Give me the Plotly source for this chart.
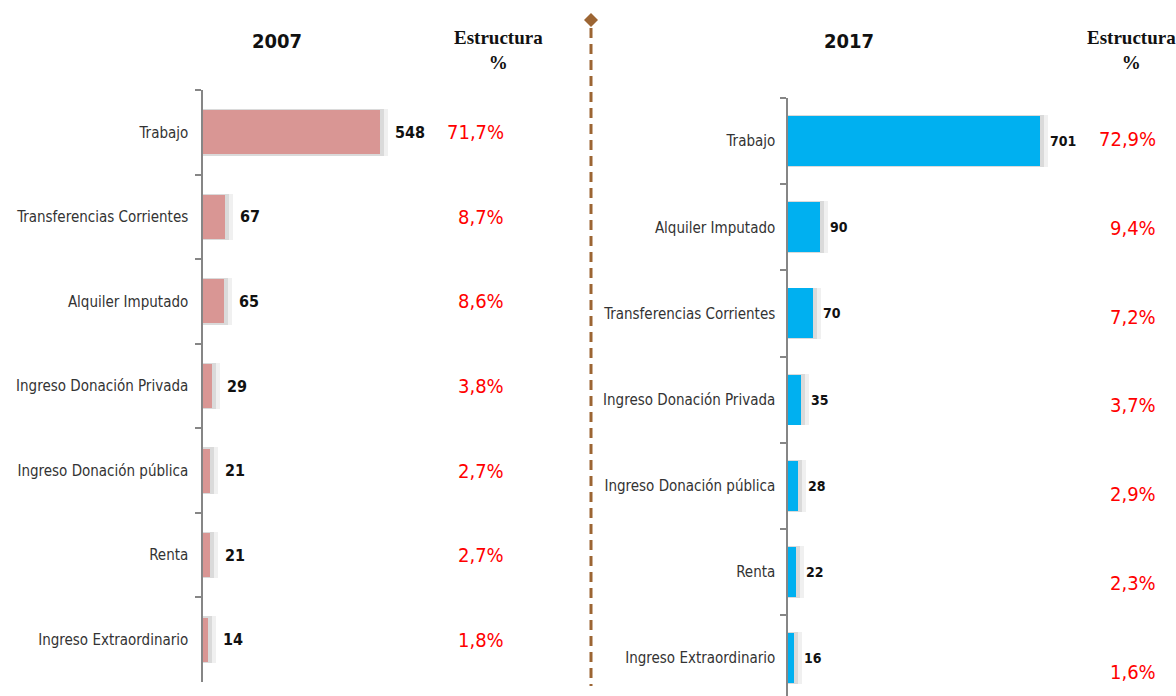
import plotly.graph_objects as go

W, H = 1176, 696

# ---- data ----
cats_2007 = ["Trabajo", "Transferencias Corrientes", "Alquiler Imputado",
             "Ingreso Donación Privada", "Ingreso Donación pública", "Renta",
             "Ingreso Extraordinario"]
vals_2007 = [548, 67, 65, 29, 21, 21, 14]
pct_2007 = [71.7, 8.7, 8.6, 3.8, 2.7, 2.7, 1.8]

cats_2017 = ["Trabajo", "Alquiler Imputado", "Transferencias Corrientes",
             "Ingreso Donación Privada", "Ingreso Donación pública", "Renta",
             "Ingreso Extraordinario"]
vals_2017 = [701, 90, 70, 35, 28, 22, 16]
pct_2017 = [72.9, 9.4, 7.2, 3.7, 2.9, 2.3, 1.6]

title_2007 = "2007"
title_2017 = "2017"
struct_title = "Estructura<br>%"

# ---- styles ----
NARROW = "DejaVu Sans Condensed, Liberation Sans Narrow, Arial Narrow, sans-serif"
SERIF = "Liberation Serif, DejaVu Serif, serif"
C_2007 = "#D99694"
C_2017 = "#00B0F0"
BROWN = "#9C6533"
AXIS_C = "#868686"

def px(x):
    return x / W

def py(y):
    return 1 - y / H

# scales (px per unit)
L_AX, L_END = 203, 430
R_AX, R_END = 788, 1065
l_scale = (380 - 203) / 548
r_scale = (1040 - 788) / 701

fig = go.Figure()

# soft shadows (two layers)
for extra, alpha in [(8, 0.06), (4, 0.09)]:
    fig.add_trace(go.Bar(x=[v + extra / l_scale for v in vals_2007], y=cats_2007, orientation="h",
                         marker=dict(color=f"rgba(0,0,0,{alpha})", line=dict(width=0)),
                         width=0.55, xaxis="x", yaxis="y", hoverinfo="skip", showlegend=False))
    fig.add_trace(go.Bar(x=[v + extra / r_scale for v in vals_2017], y=cats_2017, orientation="h",
                         marker=dict(color=f"rgba(0,0,0,{alpha})", line=dict(width=0)),
                         width=0.6, xaxis="x2", yaxis="y2", hoverinfo="skip", showlegend=False))
# bars
fig.add_trace(go.Bar(x=vals_2007, y=cats_2007, orientation="h",
                     marker=dict(color=C_2007, line=dict(width=0)),
                     width=0.52, xaxis="x", yaxis="y", showlegend=False))
fig.add_trace(go.Bar(x=vals_2017, y=cats_2017, orientation="h",
                     marker=dict(color=C_2017, line=dict(width=0)),
                     width=0.58, xaxis="x2", yaxis="y2", showlegend=False))

annotations = []
# value labels
for c, v in zip(cats_2007, vals_2007):
    annotations.append(dict(x=v, y=c, xref="x", yref="y", text=f"<b>{v}</b>",
                            xanchor="left", yanchor="middle", xshift=13, showarrow=False,
                            font=dict(family=NARROW, size=16, color="#111111")))
for c, v in zip(cats_2017, vals_2017):
    annotations.append(dict(x=v, y=c, xref="x2", yref="y2", text=f"<b>{v}</b>",
                            xanchor="left", yanchor="middle", xshift=8, showarrow=False,
                            font=dict(family=NARROW, size=14, color="#111111")))

def fmt(p):
    return f"{p:.1f}".replace(".", ",") + "%"

# percentage labels
for c, p in zip(cats_2007, pct_2007):
    annotations.append(dict(x=px(506), y=c, xref="paper", yref="y", text=fmt(p),
                            xanchor="right", yanchor="middle", showarrow=False,
                            font=dict(family=NARROW, size=20, color="#FF0000")))
for i, p in enumerate(pct_2017):
    annotations.append(dict(x=px(1158), y=py(139 + 88.8 * i), xref="paper", yref="paper",
                            text=fmt(p), xanchor="right", yanchor="middle", showarrow=False,
                            font=dict(family=NARROW, size=20, color="#FF0000")))

# headers
hdr = dict(xref="paper", yref="paper", showarrow=False, xanchor="center", yanchor="middle")
annotations += [
    dict(x=px(277), y=py(41), text=f"<b>{title_2007}</b>",
         font=dict(family=NARROW, size=20, color="#111111"), **hdr),
    dict(x=px(849), y=py(41), text=f"<b>{title_2017}</b>",
         font=dict(family=NARROW, size=20, color="#111111"), **hdr),
    dict(x=px(498), y=py(50), text=f"<b>{struct_title}</b>",
         font=dict(family=SERIF, size=19, color="#111111"), **hdr),
    dict(x=px(1131), y=py(50), text=f"<b>{struct_title}</b>",
         font=dict(family=SERIF, size=19, color="#111111"), **hdr),
]

shapes = [
    dict(type="line", xref="paper", yref="paper", x0=px(591), x1=px(591),
         y0=py(28), y1=py(686), line=dict(color=BROWN, width=3, dash="10px,6px")),
    dict(type="path", xref="paper", yref="paper",
         path=f"M {px(591)} {py(13)} L {px(598)} {py(20)} L {px(591)} {py(27)} L {px(584)} {py(20)} Z",
         fillcolor=BROWN, line=dict(color=BROWN, width=0)),
]

axis_common = dict(showgrid=False, zeroline=False)

fig.update_layout(
    width=W, height=H,
    margin=dict(l=0, r=0, t=0, b=0),
    paper_bgcolor="white", plot_bgcolor="rgba(0,0,0,0)",
    barmode="overlay",
    bargap=0,
    xaxis=dict(domain=[px(L_AX), px(L_END)], range=[0, (L_END - L_AX) / l_scale],
               visible=False, **axis_common),
    yaxis=dict(domain=[py(682), py(90)], type="category", categoryorder="array",
               categoryarray=cats_2007, range=[6.5, -0.5], anchor="x",
               showline=True, linecolor=AXIS_C, linewidth=1.5,
               ticks="outside", ticklen=6, tickcolor=AXIS_C, tickwidth=1.5,
               tickson="boundaries", ticklabelstandoff=10,
               tickfont=dict(family=NARROW, size=15, color="#333333"), **axis_common),
    xaxis2=dict(domain=[px(R_AX), px(R_END)], range=[0, (R_END - R_AX) / r_scale],
                visible=False, anchor="y2", **axis_common),
    yaxis2=dict(domain=[0, py(98)], type="category", categoryorder="array",
                categoryarray=cats_2017, range=[-0.5 + (H - 98) / 86.17, -0.5], anchor="x2",
                showline=True, linecolor=AXIS_C, linewidth=1.5,
                ticks="outside", ticklen=6, tickcolor=AXIS_C, tickwidth=1.5,
                tickson="boundaries", ticklabelstandoff=8,
                tickfont=dict(family=NARROW, size=15, color="#333333"), **axis_common),
    annotations=annotations,
    shapes=shapes,
)

fig.write_html("out.html", config={"displayModeBar": False},
               post_script="document.body.style.margin='0';document.body.style.overflow='hidden';")
